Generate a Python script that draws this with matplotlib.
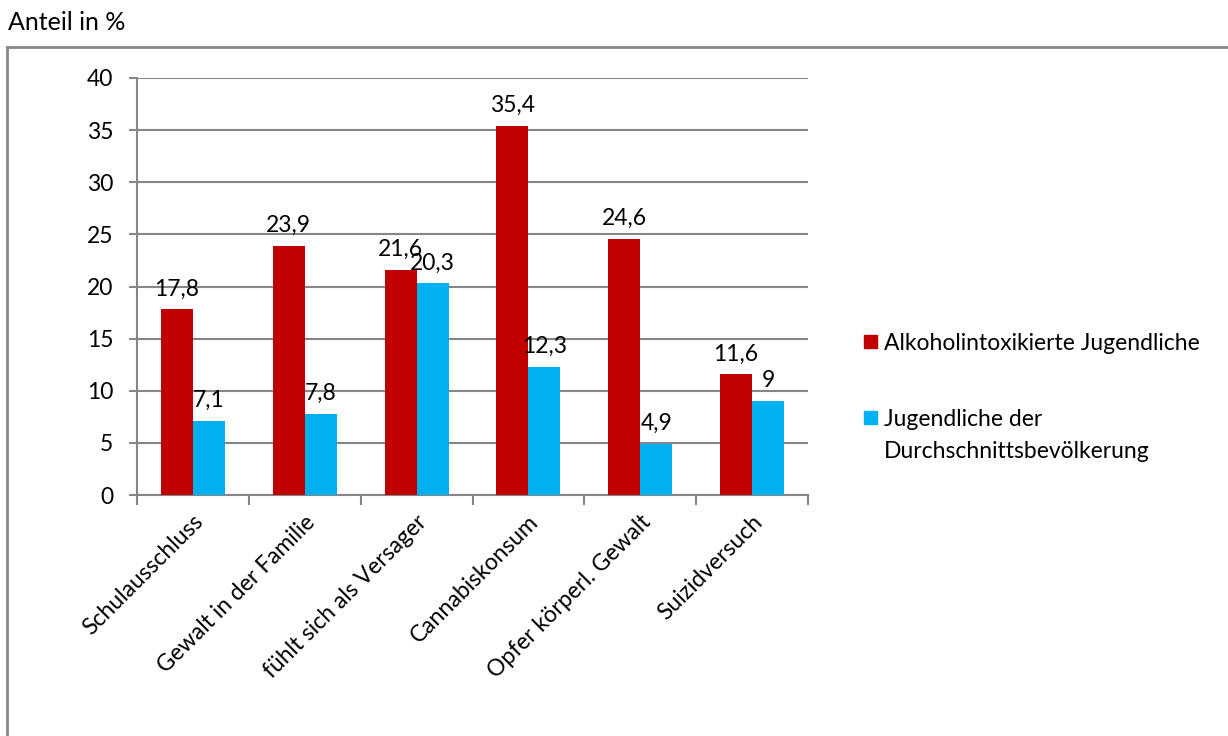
import matplotlib.pyplot as plt
import matplotlib.transforms as mtransforms
from matplotlib.patches import Rectangle
from matplotlib.lines import Line2D
import numpy as np

plt.rcParams['font.family'] = ['Lato', 'DejaVu Sans']

categories = ["Schulausschluss", "Gewalt in der Familie", "fühlt sich als Versager",
              "Cannabiskonsum", "Opfer körperl. Gewalt", "Suizidversuch"]
alkohol = [17.8, 23.9, 21.6, 35.4, 24.6, 11.6]
durchschnitt = [7.1, 7.8, 20.3, 12.3, 4.9, 9]
series_names = ["Alkoholintoxikierte Jugendliche", "Jugendliche der\nDurchschnittsbevölkerung"]
colors = ["#C00000", "#00B0F0"]
grid_color = "#868686"
fs = 16.5

W, H = 1228, 736
fig = plt.figure(figsize=(W / 100, H / 100), dpi=100)
ax = fig.add_axes([137 / W, 1 - 495 / H, (808 - 137) / W, (495 - 78) / H])

x = np.arange(len(categories))
bw = 0.286
for vals, off, col in [(alkohol, -bw / 2, colors[0]), (durchschnitt, bw / 2, colors[1])]:
    bars = ax.bar(x + off, vals, width=bw, color=col, zorder=3)
    for b, v in zip(bars, vals):
        ax.annotate(f"{v:g}".replace(".", ","), (b.get_x() + b.get_width() / 2, v),
                    xytext=(0, 7), textcoords="offset points", ha="center", va="bottom",
                    fontsize=fs)

ax.set_xlim(-0.5, len(categories) - 0.5)
ax.set_ylim(0, 40)
ax.set_yticks(range(0, 41, 5))
ax.yaxis.grid(True, color=grid_color, linewidth=1.5, zorder=0)
ax.tick_params(axis="y", labelsize=fs, length=6, width=1.5, color=grid_color, pad=11)

# category boundaries as ticks, names at centers
ax.set_xticks(np.arange(-0.5, len(categories), 1.0))
ax.set_xticklabels([])
ax.tick_params(axis="x", which="major", length=7, width=1.5, color=grid_color)
ax.set_xticks(x, minor=True)
ax.set_xticklabels(categories, minor=True, rotation=45, ha="right", va="center",
                   rotation_mode="anchor", fontsize=fs)
ax.tick_params(axis="x", which="minor", length=0, pad=17)
shift = mtransforms.ScaledTranslation(7 / 100, 0, fig.dpi_scale_trans)
for lbl in ax.get_xticklabels(minor=True):
    lbl.set_transform(lbl.get_transform() + shift)

for s in ["top", "right"]:
    ax.spines[s].set_visible(False)
for s in ["left", "bottom"]:
    ax.spines[s].set_color(grid_color)
    ax.spines[s].set_linewidth(1.5)

# outer frame (top and left edges)
fig.add_artist(Line2D([7 / W, 1], [1 - 47 / H, 1 - 47 / H], color="#898989", lw=2))
fig.add_artist(Line2D([7 / W, 7 / W], [0, 1 - 47 / H], color="#898989", lw=2))

fig.text(8 / W, 1 - 22 / H, "Anteil in %", fontsize=18, va="center", ha="left")

# legend
sq = 13
leg_y = [341, 417]
for name, col, yc in zip(series_names, colors, leg_y):
    fig.add_artist(Rectangle((864 / W, 1 - (yc + sq / 2) / H), sq / W, sq / H,
                             color=col, transform=fig.transFigure))
    for i, line in enumerate(name.split("\n")):
        fig.text(884 / W, 1 - (yc + 32 * i) / H, line, fontsize=fs, va="center_baseline",
                 ha="left")

fig.savefig("out.png", dpi=100)
